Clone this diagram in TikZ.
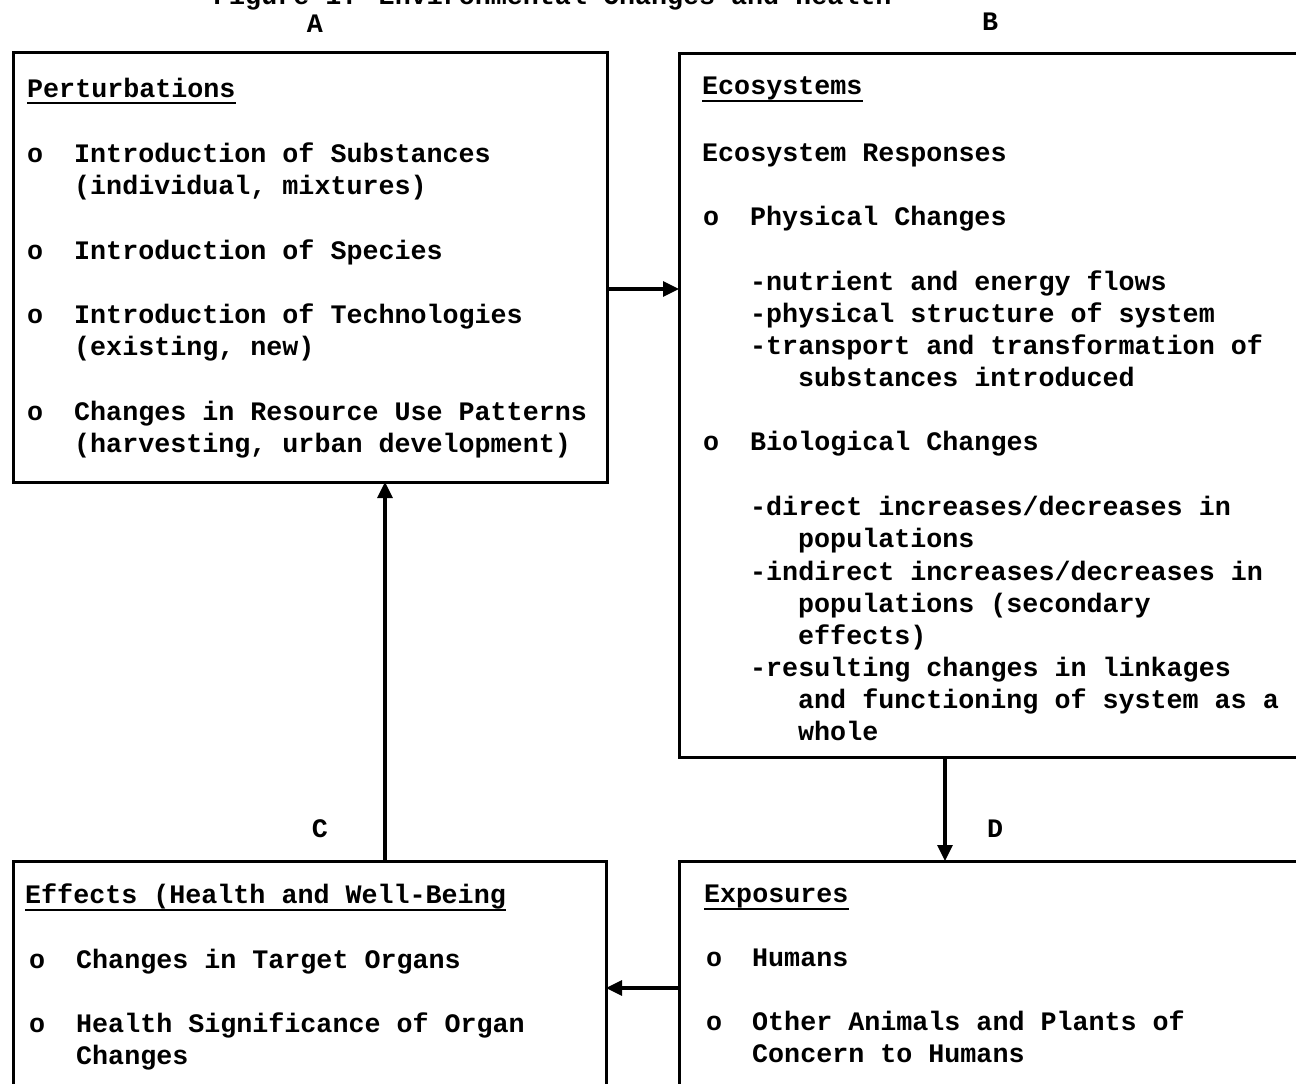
\documentclass[tikz,border=0pt]{standalone}
\usepackage{fontspec}
\usetikzlibrary{arrows.meta}
\newfontfamily\twfam{Liberation Mono}[BoldFont={Liberation Mono Bold}]
\newcommand\twf{\twfam\bfseries\fontsize{26.7}{32}\selectfont}
\tikzset{
  txt/.style={anchor=base west, inner sep=0pt, font=\twf},
  lbl/.style={anchor=base, inner sep=0pt, font=\twf},
  boxline/.style={line width=3pt},
  conn/.style={line width=3.2pt, -{Triangle[length=16pt,width=15pt]}},
  uline/.style={line width=2pt}
}
\begin{document}
\begin{tikzpicture}[x=1pt,y=-1pt]
\useasboundingbox (0,0) rectangle (1296,1084);
% title (cut off at top)
\node[txt] (title) at (213,5) {Figure 1.  Environmental Changes and Health};
% labels
\node[lbl] (la) at (315,32) {A};
\node[lbl] (lb) at (990,30) {B};
\node[lbl] (lc) at (320,837) {C};
\node[lbl] (ld) at (995,837) {D};
% boxes
\draw[boxline] (13,52) rectangle (607,482);
\draw[boxline] (679,53) rectangle (1320,757);
\draw[boxline] (13,861) rectangle (606,1110);
\draw[boxline] (679,861) rectangle (1320,1110);
\coordinate (aR) at (607,289);
\coordinate (bL) at (679,289);
\coordinate (bB) at (945,757);
\coordinate (dT) at (945,861);
\coordinate (dL) at (679,988);
\coordinate (cR) at (606,988);
\coordinate (cT) at (385,861);
\coordinate (aB) at (385,482);
% connectors
\draw[conn] (aR) -- (bL);
\draw[conn] (bB) -- (dT);
\draw[conn] (dL) -- (cR);
\draw[conn] (cT) -- (aB);
% Box A
\node[txt] (ha) at (27,97) {Perturbations};
\draw[uline] ([yshift=-6pt]ha.base west) -- ([yshift=-6pt]ha.base east);
\node[txt] (a1o) at (27,162) {o};
\node[txt] (a1) at (74,162) {Introduction of Substances};
\node[txt] (a1b) at (74,194) {(individual, mixtures)};
\node[txt] (a2o) at (27,259) {o};
\node[txt] (a2) at (74,259) {Introduction of Species};
\node[txt] (a3o) at (27,323) {o};
\node[txt] (a3) at (74,323) {Introduction of Technologies};
\node[txt] (a3b) at (74,355) {(existing, new)};
\node[txt] (a4o) at (27,420) {o};
\node[txt] (a4) at (74,420) {Changes in Resource Use Patterns};
\node[txt] (a4b) at (74,452) {(harvesting, urban development)};
% Box B
\node[txt] (hb) at (702,94) {Ecosystems};
\draw[uline] ([yshift=-7pt]hb.base west) -- ([yshift=-7pt]hb.base east);
\node[txt] (b0) at (702,161) {Ecosystem Responses};
\node[txt] (b1o) at (703,225) {o};
\node[txt] (b1) at (750,225) {Physical Changes};
\node[txt] (b11) at (750,290) {-nutrient and energy flows};
\node[txt] (b12) at (750,322) {-physical structure of system};
\node[txt] (b13) at (750,354) {-transport and transformation of};
\node[txt] (b13b) at (798,386) {substances introduced};
\node[txt] (b2o) at (703,450) {o};
\node[txt] (b2) at (750,450) {Biological Changes};
\node[txt] (b21) at (750,515) {-direct increases/decreases in};
\node[txt] (b21b) at (798,547) {populations};
\node[txt] (b22) at (750,580) {-indirect increases/decreases in};
\node[txt] (b22b) at (798,612) {populations (secondary};
\node[txt] (b22c) at (798,644) {effects)};
\node[txt] (b23) at (750,676) {-resulting changes in linkages};
\node[txt] (b23b) at (798,708) {and functioning of system as a};
\node[txt] (b23c) at (798,740) {whole};
% Box C
\node[txt] (hc) at (25,903) {Effects (Health and Well-Being};
\draw[uline] ([yshift=-7pt]hc.base west) -- ([yshift=-7pt]hc.base east);
\node[txt] (c1o) at (29,968) {o};
\node[txt] (c1) at (76,968) {Changes in Target Organs};
\node[txt] (c2o) at (29,1032) {o};
\node[txt] (c2) at (76,1032) {Health Significance of Organ};
\node[txt] (c2b) at (76,1064) {Changes};
% Box D
\node[txt] (hd) at (704,902) {Exposures};
\draw[uline] ([yshift=-7pt]hd.base west) -- ([yshift=-7pt]hd.base east);
\node[txt] (d1o) at (706,966) {o};
\node[txt] (d1) at (752,966) {Humans};
\node[txt] (d2o) at (706,1030) {o};
\node[txt] (d2) at (752,1030) {Other Animals and Plants of};
\node[txt] (d2b) at (752,1062) {Concern to Humans};
\end{tikzpicture}
\end{document}
